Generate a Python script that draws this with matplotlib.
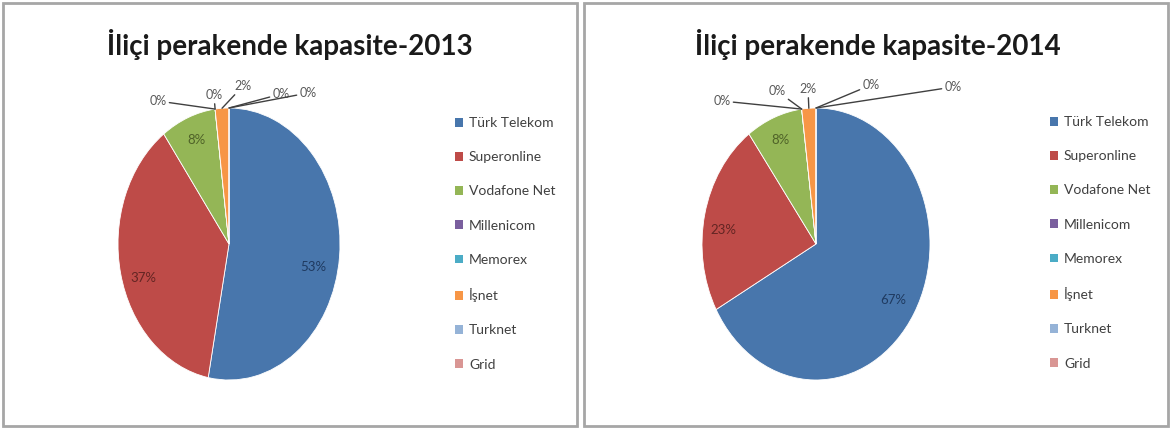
import matplotlib
matplotlib.use("Agg")
import numpy as np
import matplotlib.pyplot as plt
from matplotlib.patches import Rectangle, Patch

W, H = 1174, 428

companies = ["Türk Telekom", "Superonline", "Vodafone Net", "Millenicom",
             "Memorex", "İşnet", "Turknet", "Grid"]
share_2013 = [53, 37, 8, 0, 0, 2, 0, 0]
share_2014 = [67, 23, 8, 0, 0, 2, 0, 0]
titles = ["İliçi perakende kapasite-2013", "İliçi perakende kapasite-2014"]

colors = ["#4876AC", "#BE4B48", "#94B656", "#7A5F9E",
          "#4BACC6", "#F79646", "#95B3D7", "#D99694"]
inner_text_colors = ["#1F3A60", "#632523", "#4F6228"]

# layout (pixels)
panels = [
    dict(values=share_2013, title=titles[0], box=(3, 3, 577, 426),
         center=(229, 244), radii=(111, 136), title_xy=(290, 44),
         legend_xy=(455, 117),
         inner=[(313, 267), (143, 278), (197, 140)],
         outer={3: (158, 101), 4: (214, 95), 5: (243, 86), 6: (281, 94), 7: (308, 93)}),
    dict(values=share_2014, title=titles[1], box=(584, 3, 1168, 426),
         center=(816, 244), radii=(114, 136), title_xy=(878, 44),
         legend_xy=(1050, 116),
         inner=[(893, 300), (723, 230), (780, 140)],
         outer={3: (722, 101), 4: (777, 91), 5: (808, 89), 6: (871, 85), 7: (953, 87)}),
]

fig = plt.figure(figsize=(W / 100, H / 100), dpi=100)
fig.patch.set_facecolor("white")

for p in panels:
    x0, y0, x1, y1 = p["box"]
    fig.patches.append(Rectangle((x0 / W, 1 - y1 / H), (x1 - x0) / W, (y1 - y0) / H,
                                 transform=fig.transFigure, fill=False,
                                 edgecolor="#A6A6A6", linewidth=2.0))
    cx, cy = p["center"]
    rx, ry = p["radii"]
    ax = fig.add_axes([(cx - rx) / W, 1 - (cy + ry) / H, 2 * rx / W, 2 * ry / H])
    wedges, _ = ax.pie(p["values"], colors=colors, startangle=90, counterclock=False,
                       wedgeprops=dict(edgecolor="white", linewidth=0.6))
    ax.set_aspect("auto")
    ax.set_xlim(-1, 1)
    ax.set_ylim(-1, 1)
    ax.axis("off")

    def to_data(pt):
        return ((pt[0] - cx) / rx, (cy - pt[1]) / ry)

    # inner labels
    for i, pos in enumerate(p["inner"]):
        ax.text(*to_data(pos), f"{p['values'][i]}%", ha="center", va="center",
                fontsize=9.5, color=inner_text_colors[i], family="Lato")
    # outer labels with leader lines
    for i, pos in p["outer"].items():
        w = wedges[i]
        mid = np.deg2rad((w.theta1 + w.theta2) / 2)
        ax.annotate(f"{p['values'][i]}%", xy=(np.cos(mid), np.sin(mid)),
                    xytext=to_data(pos), ha="center", va="center",
                    fontsize=9, color="#595959", family="Lato",
                    arrowprops=dict(arrowstyle="-", color="#404040", lw=1.0,
                                    shrinkA=0, shrinkB=0),
                    annotation_clip=False)

    fig.text(p["title_xy"][0] / W, 1 - p["title_xy"][1] / H, p["title"],
             ha="center", va="center", fontsize=20, fontweight="bold",
             family="Lato", color="#1a1a1a")

    handles = [Patch(facecolor=c, edgecolor="none") for c in colors]
    fig.legend(handles, companies, loc="upper left",
               bbox_to_anchor=(p["legend_xy"][0] / W, 1 - p["legend_xy"][1] / H),
               frameon=False, labelcolor="#404040",
               prop=dict(family="Lato", size=10),
               handlelength=0.6, handleheight=0.6, handletextpad=0.4,
               labelspacing=1.6, borderpad=0, borderaxespad=0)

fig.savefig("out.png", dpi=100, facecolor="white")
